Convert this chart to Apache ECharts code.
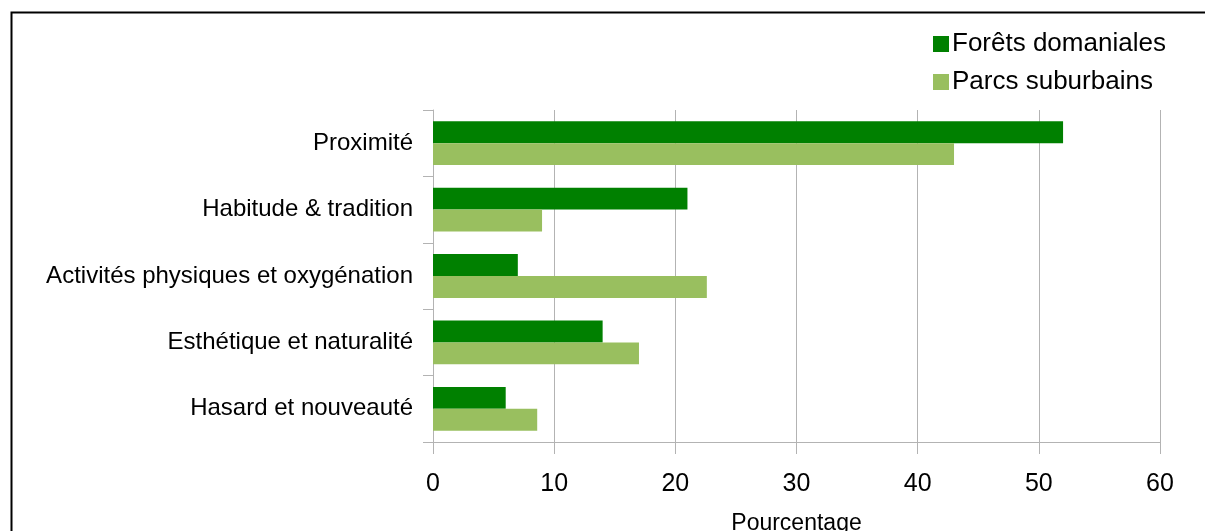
<!DOCTYPE html>
<html><head><meta charset="utf-8">
<script src="https://cdn.jsdelivr.net/npm/echarts@6/dist/echarts.min.js"></script>
<style>html,body{margin:0;padding:0;background:#fff}#c{width:1205px;height:531px}</style>
</head><body><div id="c"></div>
<script>
const categories = ["Proximité", "Habitude & tradition", "Activités physiques et oxygénation", "Esthétique et naturalité", "Hasard et nouveauté"];
const foretsDomaniales = [52, 21, 7, 14, 6];
const parcsSuburbains = [43, 9, 22.6, 17, 8.6];
const seriesNames = ["Forêts domaniales", "Parcs suburbains"];
const xTicks = {min: 0, max: 60, interval: 10};

const chart = echarts.init(document.getElementById('c'));
const font = "'Liberation Sans', Arial, sans-serif";
chart.setOption({
  animation: false,
  textStyle: {fontFamily: font},
  graphic: [{type: 'rect', shape: {x: 11.5, y: 12.5, width: 1300, height: 600}, style: {fill: 'none', stroke: '#000', lineWidth: 2}}],
  legend: {
    orient: 'vertical', left: 928, top: 26, itemWidth: 16, itemHeight: 16, itemGap: 12,
    icon: 'rect',
    textStyle: {fontSize: 26, color: '#000', fontFamily: font, padding: [0, 0, 0, -2]},
    data: seriesNames
  },
  grid: {left: 433, right: 45, top: 110, bottom: 89, containLabel: false, outerBoundsMode: 'none'},
  xAxis: {
    type: 'value', min: xTicks.min, max: xTicks.max, interval: xTicks.interval,
    name: 'Pourcentage', nameLocation: 'middle', nameGap: 70,
    nameTextStyle: {fontSize: 23, color: '#000', fontFamily: font},
    axisLine: {show: true, lineStyle: {color: '#b3b3b3'}},
    axisTick: {show: true, length: 12, lineStyle: {color: '#b3b3b3'}},
    axisLabel: {fontSize: 25, color: '#000', margin: 30, fontFamily: font},
    splitLine: {show: true, lineStyle: {color: '#b3b3b3'}}
  },
  yAxis: {
    type: 'category', data: categories, inverse: true,
    axisLine: {show: true, lineStyle: {color: '#b3b3b3'}},
    axisTick: {show: true, length: 10, lineStyle: {color: '#b3b3b3'}},
    axisLabel: {fontSize: 24, color: '#000', margin: 20, fontFamily: font},
    splitLine: {show: false}
  },
  series: [
    {name: seriesNames[0], type: 'bar', data: foretsDomaniales, itemStyle: {color: '#008000'}, barGap: '0%', barCategoryGap: '34%'},
    {name: seriesNames[1], type: 'bar', data: parcsSuburbains, itemStyle: {color: '#99bf5f'}, barGap: '0%', barCategoryGap: '34%'}
  ]
});
</script></body></html>
